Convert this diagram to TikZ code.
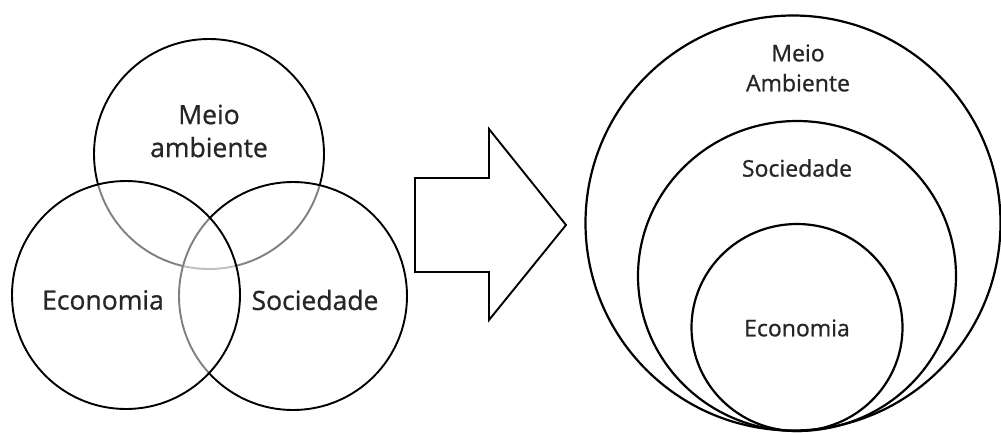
\documentclass[tikz,border=0pt]{standalone}
\usepackage{fontspec}
\setmainfont{Open Sans}
\newfontfamily\semifont{Open Sans}[FakeBold=0.8]
\begin{document}
\begin{tikzpicture}[x=1pt,y=-1pt,
  ring/.style={draw=black,line width=1.9pt},
  venn/.style={ring,fill=white,fill opacity=0.5},
  bigring/.style={draw=black,line width=2.2pt},
  bigtxt/.style={font=\semifont\fontsize{26.5}{33}\selectfont,text=black!85,align=center,inner sep=0pt},
  smalltxt/.style={font=\semifont\fontsize{23}{30}\selectfont,text=black!85,align=center,inner sep=0pt}]
\useasboundingbox (0,0) rectangle (1001,432);
% Venn diagram
\draw[ring] (209,154) circle (115);
\draw[venn] (293,296) circle (114);
\draw[venn] (126,295) circle (114);
\node[bigtxt] (ma) at (209,131) {Meio\\ambiente};
\node[bigtxt] (ec) at (103,300) {Economia};
\node[bigtxt] (so) at (315,300) {Sociedade};
% arrow
\draw[line width=1.9pt,line join=miter] (415,178) -- (489,178) -- (489,129) -- (566,225) -- (489,320) -- (489,272) -- (415,272) -- cycle;
% nested circles
\draw[bigring] (793,223) circle (207.5);
\draw[bigring] (797,276) ellipse (159 and 155);
\draw[bigring] (797,327.5) ellipse (105.5 and 103.5);
\node[smalltxt] (ma2) at (798,68) {Meio\\Ambiente};
\node[smalltxt] (so2) at (797,168) {Sociedade};
\node[smalltxt] (ec2) at (797,328) {Economia};
\end{tikzpicture}
\end{document}
